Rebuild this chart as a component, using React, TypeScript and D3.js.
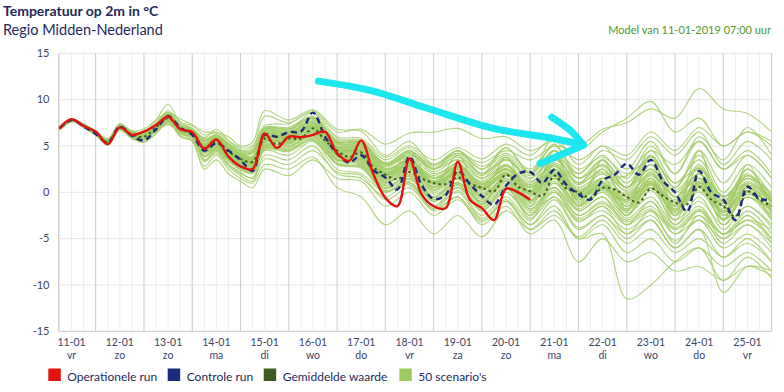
import * as d3 from "d3";

const dayLabels = ["11-01", "12-01", "13-01", "14-01", "15-01", "16-01", "17-01", "18-01", "19-01", "20-01", "21-01", "22-01", "23-01", "24-01", "25-01"];
const weekdayLabels = ["vr", "zo", "zo", "ma", "di", "wo", "do", "vr", "za", "zo", "ma", "di", "wo", "do", "vr"];
const yTicks = [15, 10, 5, 0, -5, -10, -15];

// hours since 11-01 00:00, every 6h
const mainHours = d3.range(6, 361, 6);

const operationalRun = [
  6.9, 7.9, 7.15, 6.55, 5.2, 7.0, 6.2, 6.55, 7.25, 8.15,
  6.8, 6.5, 4.7, 5.7, 3.85, 2.8, 2.5, 6.35, 4.8, 6.0,
  5.95, 6.2, 6.55, 4.2, 3.4, 5.6, 2.0, -0.6, -1.5, 3.65,
  -0.2, -1.5, -1.7, 3.3, -0.8, -1.7, -3.0, 0.4, 0.0, -0.8,
];

const controlRun = [
  6.9, 7.8, 7.1, 6.3, 5.35, 7.1, 6.1, 5.6, 6.8, 8.2,
  7.0, 6.2, 4.5, 5.3, 4.5, 3.5, 2.3, 6.2, 6.0, 6.5,
  6.55, 8.6, 6.0, 4.2, 3.2, 4.0, 2.4, 1.6, 0.3, 3.85,
  0.8, -0.7, -0.3, 2.3, 0.9, -0.4, -1.35, 0.7, 2.0, 2.2,
  1.0, 2.4, 0.8, -0.2, -0.8, 1.3, 1.9, 3.1, 1.9, 3.5,
  1.2, 0.0, -2.1, 2.3, 0.0, -0.8, -3.0, 0.6, -0.7, -0.8,
];

const ensembleMean = [
  6.9, 7.8, 7.2, 6.4, 5.4, 7.0, 6.2, 6.0, 7.0, 8.0,
  6.9, 6.3, 4.8, 5.4, 4.4, 3.6, 3.3, 5.8, 5.2, 5.8,
  5.8, 6.9, 5.6, 4.5, 3.8, 4.3, 2.7, 1.9, 1.4, 2.2,
  1.5, 1.0, 0.9, 1.6, 0.9, 0.5, 0.1, 1.9, 0.6, 0.1,
  -0.4, 1.8, 0.4, 0.0, -0.6, 0.5, 0.3, -0.5, -1.1, 0.4,
  -0.4, -1.1, -1.3, 0.6, -0.8, -1.5, -2.6, 0.1, -0.8, -1.5,
];

const scenarioHours = [
  6, 12, 18, 24, 30, 36, 42, 48, 54, 60, 66, 72, 78, 84, 90, 96, 102, 108,
  120, 132, 144, 156, 168, 180, 192, 204, 216, 228, 240, 252, 264, 276, 288, 300, 312, 324, 336, 348, 360,
];

const scenarios = [
  [6.9, 7.8, 7.2, 6.4, 5.5, 7.1, 6.3, 6.1, 7.1, 8.2, 7.0, 6.4, 5.0, 5.6, 4.6, 3.9, 3.7, 6.2, 6.0, 7.4, 4.8, 4.6, 2.3, 3.6, 1.5, 2.8, 1.2, 2.9, 0.8, 3.2, 1.0, 2.2, 0.5, 3.0, 0.2, 2.5, -0.5, 1.8, -0.3],
  [7.0, 7.8, 7.1, 6.3, 5.3, 6.9, 6.0, 5.8, 6.7, 7.6, 6.5, 6.0, 4.3, 5.0, 3.9, 3.0, 2.6, 5.2, 5.0, 6.0, 3.6, 3.2, 0.8, 1.5, -0.8, 0.5, -1.5, 0.0, -2.2, -0.5, -3.0, -2.0, -4.0, -2.5, -5.2, -3.0, -6.0, -4.5, -6.5],
  [6.9, 7.9, 7.4, 6.6, 5.8, 7.4, 6.6, 6.5, 7.8, 9.5, 7.6, 7.2, 6.2, 6.4, 5.6, 4.8, 5.0, 7.2, 7.4, 8.6, 6.0, 5.8, 3.8, 5.0, 3.5, 4.8, 3.6, 5.2, 4.0, 6.0, 5.0, 6.8, 7.5, 9.0, 8.0, 11.2, 9.0, 8.5, 6.5],
  [7.1, 7.9, 7.0, 6.2, 5.2, 6.8, 5.9, 5.7, 6.6, 7.3, 6.4, 5.7, 3.9, 4.7, 3.5, 2.6, 2.1, 4.9, 4.6, 5.8, 3.0, 2.8, 0.2, 1.0, -1.5, 0.0, -2.8, -0.8, -3.5, -1.5, -5.0, -4.5, -11.5, -10.0, -7.5, -6.0, -9.5, -7.0, -9.3],
  [6.8, 7.7, 7.1, 6.4, 5.3, 7.0, 6.1, 5.9, 6.9, 8.1, 6.8, 6.1, 4.4, 5.0, 4.0, 3.1, 2.9, 5.5, 5.4, 6.5, 3.8, 3.5, 0.5, 1.8, -1.0, 0.8, -2.0, 0.5, -2.8, -0.5, -3.8, -2.5, -4.5, -3.0, -6.0, -4.0, -10.8, -8.0, -8.5],
  [6.7, 7.6, 7.3, 6.6, 5.7, 7.4, 6.5, 6.4, 7.5, 8.8, 7.5, 6.9, 5.9, 6.8, 5.6, 4.6, 4.8, 8.2, 7.5, 8.8, 6.5, 6.8, 5.2, 6.4, 6.5, 6.9, 5.8, 6.0, 4.5, 5.5, 3.5, 5.0, 4.0, 6.5, 4.5, 7.0, 5.0, 6.5, 5.5],
  [6.9, 7.8, 7.2, 6.4, 5.4, 7.1, 6.2, 6.1, 7.1, 8.2, 7.0, 6.4, 4.9, 5.5, 4.4, 3.5, 3.2, 5.8, 6.2, 7.0, 4.2, 4.0, 1.5, 2.8, 0.5, 2.2, -0.5, 1.5, -1.0, 2.5, -0.8, 1.5, -1.5, 2.0, -2.0, 1.2, -2.5, 0.5, -1.8],
  [7.0, 7.9, 7.0, 6.2, 5.1, 6.7, 5.8, 5.4, 6.3, 7.5, 6.0, 5.5, 2.5, 3.5, 2.0, 1.2, 0.5, 2.5, 1.8, 3.5, 1.5, 1.2, -1.5, 0.0, -2.5, -0.8, -3.2, -1.0, -4.0, -2.5, -4.8, -3.0, -5.5, -4.0, -6.5, -5.0, -7.0, -5.5, -7.5],
  [6.9, 7.8, 7.2, 6.4, 5.4, 6.9, 6.1, 5.7, 6.8, 8.1, 6.8, 6.2, 4.5, 5.3, 3.6, 2.4, 2.2, 6.1, 6.5, 8.6, 4.2, 3.3, 1.6, 3.8, 0.2, 2.5, -1.3, 1.9, 0.5, 2.4, 0.2, 1.5, 1.8, 3.5, 1.0, 2.6, -0.4, 0.8, -0.7],
  [6.8, 7.8, 7.3, 6.5, 5.6, 7.2, 6.4, 6.2, 7.3, 8.3, 7.2, 6.5, 5.5, 6.0, 5.1, 4.2, 4.3, 6.8, 6.5, 7.6, 5.2, 5.0, 2.8, 3.8, 2.0, 3.0, 1.5, 3.5, 1.8, 4.5, 2.5, 3.8, 2.0, 4.5, 3.0, 5.5, 2.5, 4.0, 1.5],
  [7.0, 7.8, 7.0, 6.3, 5.1, 6.8, 5.9, 5.9, 6.6, 7.8, 6.3, 6.0, 3.5, 4.5, 3.0, 2.0, 1.6, 4.5, 4.0, 5.5, 2.5, 2.0, 0.0, 1.2, -1.5, 0.5, -2.0, 0.0, -2.5, 1.5, -1.5, 0.0, -2.5, 0.8, -3.5, -0.5, -4.0, -1.5, -3.8],
  [6.9, 7.7, 7.3, 6.5, 5.7, 7.3, 6.6, 6.8, 7.8, 8.6, 7.9, 7.3, 6.5, 6.5, 6.0, 5.0, 5.4, 8.8, 7.8, 8.9, 6.8, 6.6, 4.0, 5.5, 3.0, 4.5, 2.5, 4.8, 2.0, 5.2, 1.5, 3.0, 0.5, 3.5, -0.5, 3.0, -1.0, 2.5, -0.5],
  [6.9, 7.8, 7.3, 6.5, 5.5, 7.0, 6.3, 6.0, 7.0, 7.9, 6.8, 6.2, 4.6, 5.2, 4.2, 3.4, 3.1, 5.6, 5.5, 6.6, 4.0, 3.8, 1.0, 2.5, -0.5, 1.5, -1.2, 2.0, -1.5, 3.0, -1.0, 1.0, -2.5, 1.5, -3.0, 2.0, -3.5, 0.0, -3.0],
  [7.0, 7.9, 7.2, 6.4, 5.5, 7.0, 6.3, 6.0, 7.0, 8.0, 7.0, 6.3, 5.2, 5.8, 4.8, 4.0, 3.8, 6.5, 6.2, 7.2, 5.0, 4.8, 2.5, 3.2, 1.2, 2.8, 1.0, 2.5, 0.2, 3.5, 1.5, 2.8, 0.5, 4.5, 1.0, 3.5, -0.5, 2.0, -0.8],
  [6.8, 7.7, 7.2, 6.6, 5.5, 7.3, 6.3, 6.3, 7.1, 8.5, 6.6, 6.7, 3.4, 4.2, 2.8, 1.8, 1.2, 4.0, 3.5, 5.0, 2.0, 1.5, -0.5, 1.0, -1.8, 0.2, -2.5, -0.5, -3.0, 1.0, -2.0, -0.5, -3.5, -1.0, -4.5, -2.0, -5.0, -2.5, -5.5],
  [6.9, 7.8, 7.2, 6.4, 5.4, 7.0, 6.2, 6.1, 7.1, 8.1, 7.0, 6.4, 4.8, 5.4, 4.4, 3.6, 3.4, 5.9, 5.9, 7.0, 4.6, 4.3, 2.0, 3.0, 1.0, 2.2, 0.3, 1.8, 0.0, 2.0, -0.5, 0.5, -1.0, 1.0, -1.5, 0.5, -2.0, 0.0, -2.2],
  [7.0, 7.8, 7.1, 6.3, 5.3, 7.0, 6.1, 5.9, 6.9, 7.8, 6.7, 6.1, 4.4, 5.0, 3.9, 3.0, 2.6, 5.0, 5.2, 6.2, 3.5, 3.6, 1.2, 4.5, 0.5, 4.0, -0.5, 3.8, -1.0, 4.5, -1.5, 3.5, -2.0, 4.0, -2.5, 4.5, -3.0, 3.0, -2.5],
  [6.9, 7.8, 7.2, 6.4, 5.4, 7.0, 6.3, 6.0, 7.0, 8.0, 6.9, 6.3, 5.0, 5.6, 4.6, 3.8, 3.5, 6.0, 6.0, 7.2, 4.8, 4.5, 2.2, 3.0, 1.5, 2.5, 0.8, 2.0, 0.5, 2.5, 0.0, 1.2, -0.8, 1.5, -1.5, 1.0, -1.2, 1.2, -1.0],
  [6.8, 7.6, 7.3, 6.6, 5.7, 7.3, 6.5, 6.3, 7.4, 8.6, 7.3, 6.9, 5.8, 6.2, 5.3, 4.5, 4.6, 7.0, 7.0, 8.2, 5.8, 5.5, 3.0, 4.0, 2.5, 4.0, 2.0, 3.5, 1.5, 3.8, 1.0, 3.0, 0.5, 2.5, 0.0, 2.0, -0.5, 1.5, 0.0],
  [7.1, 7.9, 7.1, 6.2, 5.2, 6.9, 6.0, 5.8, 6.7, 7.4, 6.5, 5.9, 4.2, 4.9, 3.8, 3.0, 2.7, 5.0, 4.8, 6.2, 3.5, 3.0, 0.5, 1.8, -0.5, 1.0, -1.0, 1.2, -1.8, 0.5, -2.5, -1.0, -3.0, -1.5, -4.0, -2.0, -4.5, -3.0, -4.0],
  [6.9, 7.8, 7.1, 6.4, 5.4, 6.9, 6.2, 6.0, 6.9, 8.0, 6.8, 6.3, 4.7, 5.4, 4.3, 3.5, 3.2, 5.7, 5.6, 6.8, 4.3, 4.2, 1.8, 2.8, 0.8, 2.0, 0.2, 2.2, -0.2, 1.8, -0.5, 1.0, -1.5, 0.5, -2.0, 1.5, -2.5, -0.5, -2.0],
  [7.0, 7.9, 7.3, 6.5, 5.5, 7.1, 6.3, 6.1, 7.1, 8.1, 7.0, 6.5, 5.1, 5.7, 4.7, 3.8, 3.6, 6.2, 6.0, 7.3, 4.9, 5.0, 2.8, 4.0, 2.5, 3.5, 1.5, 3.0, 1.0, 4.0, 2.0, 4.5, 3.5, 6.0, 4.0, 6.5, 3.0, 5.5, 3.5],
  [6.9, 7.8, 7.1, 6.2, 5.2, 6.8, 5.9, 5.5, 6.4, 7.8, 6.1, 5.6, 2.8, 4.0, 2.5, 1.5, 1.0, 3.0, 2.5, 3.8, 0.5, -0.5, -3.5, -2.0, -4.5, -2.5, -4.8, -2.0, -4.0, -2.0, -5.0, -3.5, -6.5, -5.0, -7.5, -6.0, -8.0, -6.5, -8.5],
  [6.9, 7.7, 7.2, 6.4, 5.5, 7.1, 6.4, 6.2, 7.2, 8.3, 7.1, 6.6, 5.3, 5.9, 4.9, 4.1, 3.9, 6.5, 6.4, 7.6, 5.3, 5.1, 2.6, 3.4, 1.8, 3.0, 1.0, 2.5, 0.8, 2.8, 0.5, 2.0, 0.2, 2.5, -0.5, 2.0, -1.0, 1.5, -1.0],
  [7.0, 7.9, 7.1, 6.3, 5.3, 6.9, 6.1, 5.9, 6.9, 7.7, 6.7, 6.0, 4.5, 5.1, 4.0, 3.2, 2.9, 5.3, 5.3, 6.4, 3.9, 3.6, 1.2, 2.2, 0.0, 1.4, -0.8, 1.0, -1.2, 1.0, -1.8, 0.0, -2.5, 0.2, -3.0, -1.0, -3.5, -1.5, -3.5],
  [6.8, 7.7, 7.3, 6.6, 5.6, 7.2, 6.4, 6.2, 7.3, 8.5, 7.2, 6.7, 5.6, 6.0, 5.1, 4.2, 4.3, 6.8, 6.8, 8.0, 5.5, 5.4, 3.2, 4.5, 2.8, 4.2, 2.5, 4.0, 2.0, 4.5, 1.5, 3.5, 1.0, 4.0, 0.5, 4.5, 1.0, 4.0, 1.5],
  [6.9, 7.8, 7.2, 6.4, 5.4, 7.0, 6.2, 6.0, 7.0, 8.0, 6.9, 6.3, 4.7, 5.3, 4.2, 3.4, 3.0, 5.6, 5.7, 6.9, 4.4, 4.1, 1.6, 2.6, 0.6, 1.8, -0.2, 1.5, -0.8, 1.5, -1.2, 0.2, -2.0, 0.5, -2.2, 0.0, -2.8, -0.5, -2.5],
  [7.0, 7.8, 7.1, 6.3, 5.2, 6.9, 6.0, 5.8, 6.7, 7.9, 6.5, 6.0, 3.8, 4.6, 3.3, 2.5, 2.0, 4.6, 4.4, 5.6, 3.0, 2.6, 0.0, 1.5, -1.0, 0.8, -1.8, 0.5, -2.5, 0.0, -3.2, -1.5, -4.5, -2.0, -5.5, -2.5, -5.5, -3.5, -6.0],
  [6.9, 7.8, 7.3, 6.5, 5.5, 7.1, 6.3, 6.1, 7.1, 8.2, 7.0, 6.5, 5.1, 5.8, 4.7, 3.9, 3.7, 6.3, 6.3, 7.5, 5.0, 4.9, 2.5, 3.3, 1.6, 2.8, 0.9, 2.6, 0.5, 2.5, 0.3, 1.5, -0.2, 1.8, -0.5, 1.5, -0.8, 1.0, -0.5],
  [6.9, 7.7, 7.2, 6.4, 5.4, 7.0, 6.2, 6.0, 7.1, 8.1, 6.9, 6.4, 4.9, 5.5, 4.5, 3.7, 3.4, 5.9, 6.1, 7.1, 4.7, 4.4, 2.0, 3.2, 1.2, 2.5, 0.5, 2.0, 0.0, 2.5, -0.8, 0.8, -1.8, 1.0, -2.5, 0.8, -3.0, 0.2, -2.8],
  [7.0, 7.9, 7.1, 6.2, 5.1, 6.9, 5.9, 5.8, 6.6, 7.6, 6.3, 6.0, 3.3, 4.4, 3.0, 2.2, 1.5, 3.6, 3.0, 4.5, 2.2, 1.8, -0.8, 0.5, -2.0, -0.5, -3.0, -1.0, -3.5, -0.8, -4.0, -2.5, -5.0, -3.0, -6.0, -4.0, -7.0, -5.0, -7.5],
  [6.8, 7.7, 7.3, 6.5, 5.6, 7.2, 6.4, 6.3, 7.3, 8.4, 7.2, 6.7, 5.6, 6.1, 5.2, 4.3, 4.4, 6.9, 6.9, 8.1, 5.6, 5.6, 3.5, 4.8, 3.0, 4.5, 2.8, 4.2, 2.5, 5.0, 2.0, 4.0, 1.5, 5.0, 2.0, 5.5, 2.5, 4.5, 2.0],
  [6.9, 7.8, 7.2, 6.4, 5.4, 7.0, 6.2, 5.9, 6.9, 8.0, 6.8, 6.3, 4.6, 5.3, 4.1, 3.3, 3.0, 5.5, 5.4, 6.6, 4.1, 3.9, 1.4, 2.4, 0.3, 1.6, -0.4, 1.3, -1.0, 1.2, -1.5, 0.5, -2.2, -0.5, -3.5, -1.5, -4.5, -2.0, -4.5],
  [7.0, 7.9, 7.2, 6.4, 5.5, 7.0, 6.3, 6.0, 7.1, 8.1, 7.0, 6.4, 5.1, 5.8, 4.7, 3.8, 3.6, 6.4, 6.5, 7.6, 5.2, 5.2, 3.0, 4.0, 3.0, 4.2, 3.2, 4.5, 3.5, 5.0, 4.5, 6.5, 8.0, 9.8, 6.5, 8.0, 5.0, 6.5, 5.0],
  [6.9, 7.8, 7.1, 6.3, 5.3, 6.9, 6.1, 5.9, 6.8, 7.8, 6.6, 6.1, 4.4, 5.0, 3.9, 3.1, 2.8, 5.1, 5.0, 6.1, 3.6, 3.4, 1.0, 2.0, -0.2, 1.0, -1.0, 0.8, -1.5, 0.5, -2.0, -0.5, -2.8, -1.0, -3.8, -1.8, -4.5, -2.5, -5.0],
  [6.9, 7.8, 7.3, 6.5, 5.5, 7.1, 6.3, 6.1, 7.1, 8.2, 7.0, 6.5, 5.0, 5.7, 4.6, 3.9, 3.6, 6.1, 6.0, 7.2, 4.7, 4.5, 2.1, 3.5, 1.2, 3.2, 0.6, 3.0, 0.0, 3.8, -0.2, 2.5, -1.0, 3.0, -1.8, 2.8, -2.2, 2.5, -1.5],
  [7.0, 7.9, 7.2, 6.4, 5.4, 7.0, 6.2, 6.0, 6.9, 7.9, 6.8, 6.2, 4.6, 5.2, 4.2, 3.3, 3.0, 5.5, 5.5, 6.7, 4.2, 4.0, 1.5, 2.5, 0.5, 1.8, 0.0, 1.5, -0.5, 2.0, -0.8, 1.0, -1.5, 1.2, -2.0, 1.0, -2.2, 0.5, -2.0],
  [6.8, 7.7, 7.2, 6.5, 5.6, 7.2, 6.4, 6.2, 7.2, 8.3, 7.1, 6.6, 5.3, 5.9, 4.9, 4.0, 3.9, 6.6, 6.5, 7.8, 5.4, 5.3, 3.0, 4.2, 2.2, 3.5, 1.8, 3.6, 1.2, 3.0, 0.8, 2.5, 0.0, 2.0, -0.5, 1.5, -1.5, 1.0, -1.2],
  [6.9, 7.8, 7.2, 6.4, 5.4, 7.0, 6.2, 6.0, 7.0, 8.0, 6.9, 6.3, 4.8, 5.4, 4.4, 3.6, 3.3, 5.8, 5.8, 6.9, 4.5, 4.3, 1.9, 2.9, 1.0, 2.1, 0.4, 2.0, -0.1, 1.7, -0.3, 0.6, -0.8, 0.9, -1.3, 0.7, -1.8, 0.2, -1.5],
  [7.0, 7.9, 7.1, 6.3, 5.2, 6.9, 6.0, 5.8, 6.7, 7.7, 6.5, 6.0, 3.9, 4.7, 3.5, 2.7, 2.2, 4.8, 4.5, 5.7, 3.1, 2.7, 0.1, 0.8, -1.8, -0.5, -3.5, -1.5, -4.5, -3.0, -7.5, -5.0, -7.5, -6.5, -8.5, -8.0, -9.5, -8.0, -9.0],
  [6.9, 7.8, 7.2, 6.5, 5.5, 7.1, 6.3, 6.0, 7.0, 8.1, 6.9, 6.4, 5.0, 5.6, 4.5, 3.7, 3.4, 6.0, 5.9, 7.1, 4.6, 4.4, 2.1, 3.1, 1.1, 2.3, 0.6, 2.1, 0.2, 2.0, 0.1, 1.0, -0.3, 1.2, -0.8, 1.0, -1.2, 0.5, -1.0],
  [7.0, 7.9, 7.1, 6.3, 5.3, 6.9, 6.1, 5.9, 6.9, 7.8, 6.7, 6.1, 4.5, 5.1, 4.0, 3.2, 2.9, 5.4, 5.4, 6.4, 4.0, 3.7, 1.3, 2.0, 0.2, 1.5, -0.6, 1.2, -0.9, 1.5, -1.4, 0.5, -1.8, 1.0, -2.5, 0.5, -3.0, -0.5, -3.0],
  [6.8, 7.7, 7.4, 6.6, 5.7, 7.3, 6.5, 6.3, 7.4, 8.5, 7.3, 6.8, 5.7, 6.2, 5.3, 4.4, 4.5, 7.0, 6.8, 8.0, 5.5, 5.3, 3.0, 4.5, 2.5, 4.5, 2.0, 4.8, 2.2, 6.0, 3.0, 5.0, 2.5, 5.5, 2.0, 6.0, 3.5, 7.0, 4.0],
  [6.9, 7.8, 7.2, 6.4, 5.4, 7.0, 6.2, 6.0, 7.0, 8.0, 6.9, 6.3, 4.9, 5.5, 4.4, 3.6, 3.3, 5.9, 5.8, 6.9, 4.5, 4.2, 1.8, 2.7, 0.9, 1.9, 0.3, 1.8, -0.3, 1.5, -0.6, 0.3, -1.2, 0.5, -1.8, 0.2, -2.2, -0.2, -2.0],
  [7.0, 7.8, 7.1, 6.3, 5.3, 6.9, 6.1, 5.9, 6.8, 7.9, 6.6, 6.2, 4.3, 4.9, 3.8, 2.9, 2.6, 4.9, 4.8, 6.0, 3.4, 3.1, 0.7, 1.7, -0.6, 1.1, -1.3, 0.6, -1.8, 0.2, -2.5, -1.2, -3.2, -1.8, -4.5, -3.0, -5.0, -3.5, -5.5],
  [6.9, 7.7, 7.3, 6.5, 5.5, 7.1, 6.3, 6.2, 7.2, 8.3, 7.1, 6.6, 5.1, 5.8, 4.7, 3.9, 3.7, 6.3, 6.2, 7.4, 4.9, 4.7, 2.4, 3.4, 1.5, 2.7, 0.8, 2.8, 0.6, 3.0, 0.0, 2.0, -0.5, 2.2, -1.0, 2.0, -1.5, 1.8, -1.0],
  [6.9, 7.8, 7.2, 6.4, 5.4, 7.0, 6.2, 6.0, 7.0, 8.0, 6.9, 6.3, 4.8, 5.4, 4.4, 3.5, 3.2, 5.8, 5.9, 7.0, 4.5, 4.3, 1.9, 3.0, 1.0, 2.2, 0.4, 2.4, 0.1, 2.2, -0.2, 0.8, -1.0, 1.2, -1.5, 1.2, -2.0, 0.8, -1.8],
  [7.0, 7.9, 7.1, 6.3, 5.2, 6.9, 6.0, 5.9, 6.7, 7.7, 6.5, 6.0, 4.0, 4.8, 3.6, 2.8, 2.4, 4.7, 4.6, 5.8, 3.2, 2.9, 0.4, 1.4, -0.8, 0.8, -1.6, 0.4, -2.0, 0.0, -2.8, -1.5, -3.5, -2.0, -4.0, -2.5, -4.5, -3.0, -5.0],
  [6.8, 7.7, 7.3, 6.5, 5.6, 7.2, 6.4, 6.3, 7.3, 8.4, 7.2, 6.7, 5.5, 6.0, 5.0, 4.1, 4.2, 6.7, 6.7, 7.9, 5.4, 5.4, 3.1, 4.3, 2.6, 3.8, 2.0, 3.8, 1.5, 4.0, 1.0, 3.5, 0.5, 3.8, 0.5, 4.0, 0.0, 3.0, 0.5],
  [6.9, 7.8, 7.2, 6.4, 5.4, 7.0, 6.2, 6.0, 7.0, 8.0, 6.9, 6.3, 4.8, 5.4, 4.4, 3.6, 3.3, 5.8, 5.8, 6.9, 4.5, 4.3, 1.9, 2.8, 1.0, 2.0, 0.5, 1.9, 0.1, 1.8, 0.0, 0.5, -0.5, 0.8, -1.1, 0.8, -1.5, 0.1, -1.5],
];

// hand-drawn cyan arrow on the picture, in [hour, °C]
const arrowShaft = [[134.7, 12.0], [160.4, 11.0], [188.5, 9.1], [221.7, 6.9], [251.5, 5.8], [266.4, 5.1]];
const arrowUpper = [[250.7, 8.1], [259.8, 6.7], [266.4, 5.1]];
const arrowLower = [[266.4, 5.1], [254.8, 4.0], [244.9, 3.1]];

const legendItems = [
  { label: "Operationele run", color: "#e3140f", x: 48.3 },
  { label: "Controle run", color: "#1b2b7e", x: 167.7 },
  { label: "Gemiddelde waarde", color: "#3f5b22", x: 263.7 },
  { label: "50 scenario's", color: "#9fcb5e", x: 399.3 },
];

const FONT = "Lato, 'Open Sans', sans-serif";

export default function App() {
  const width = 784;
  const height = 392;
  const x = d3.scaleLinear().domain([0, 360]).range([47.4, 771.6]);
  const y = d3.scaleLinear().domain([-15, 15]).range([331.3, 53.3]);
  const left = x(5.5);
  const right = x(360);

  const line = (hours: number[]) =>
    d3.line<number>()
      .x((_, i) => x(hours[i]))
      .y((d) => y(d))
      .curve(d3.curveCatmullRom.alpha(0.5));
  const arrowLine = d3.line<number[]>()
    .x((d) => x(d[0]))
    .y((d) => y(d[1]))
    .curve(d3.curveCatmullRom.alpha(0.5));

  const minor = d3.range(6, 360, 6).filter((h) => h % 24 !== 0);
  const major = d3.range(24, 360, 24);

  return (
    <svg width={width} height={height} style={{ position: "absolute", left: 0, top: 0, background: "#fff" }} fontFamily={FONT}>
      <defs>
        <clipPath id="plot">
          <rect x={left} y={y(15)} width={right - left} height={y(-15) - y(15)} />
        </clipPath>
      </defs>

      <text x={3} y={16} fontSize={14} fontWeight={700} fill="#1e2a5c">Temperatuur op 2m in °C</text>
      <text x={3} y={35} fontSize={14.5} fill="#1e2a5c">Regio Midden-Nederland</text>
      <text x={771} y={34} fontSize={11} fill="#4f9a2b" textAnchor="end">Model van 11-01-2019 07:00 uur</text>

      {/* grid */}
      {yTicks.map((t) => (
        <line key={"h" + t} x1={left} x2={right} y1={y(t)} y2={y(t)} stroke={t === -15 ? "#c4c4c4" : "#e6e6e6"} strokeWidth={1} />
      ))}
      {minor.map((h) => (
        <line key={"m" + h} x1={x(h)} x2={x(h)} y1={y(15)} y2={y(-15)} stroke="#ededed" strokeWidth={1} />
      ))}
      {major.map((h) => (
        <line key={"M" + h} x1={x(h)} x2={x(h)} y1={y(15)} y2={y(-15)} stroke="#cbcbcb" strokeWidth={1} />
      ))}
      <line x1={left} x2={left} y1={y(15)} y2={y(-15)} stroke="#cbcbcb" />
      <line x1={right} x2={right} y1={y(15)} y2={y(-15)} stroke="#cbcbcb" />

      {/* y axis labels */}
      {yTicks.map((t) => (
        <text key={"yt" + t} x={49.5} y={y(t)} dy="0.35em" fontSize={11} fill="#3a4566" textAnchor="end">{t}</text>
      ))}

      {/* x axis labels */}
      {dayLabels.map((d, i) => (
        <g key={d} transform={`translate(${x(24 * i + 12)},0)`}>
          <text y={345.5} fontSize={10.5} fill="#3a4566" textAnchor="middle">{d}</text>
          <text y={358.5} fontSize={10.5} fill="#3a4566" textAnchor="middle">{weekdayLabels[i]}</text>
        </g>
      ))}

      <g clipPath="url(#plot)" fill="none">
        {scenarios.map((s, i) => (
          <path key={"s" + i} d={line(scenarioHours)(s) ?? ""} stroke="#a2cc67" strokeWidth={1.1} strokeOpacity={0.85} />
        ))}
        <path d={line(mainHours)(ensembleMean) ?? ""} stroke="#3f5b22" strokeWidth={2} strokeDasharray="2.5,3" />
        <path d={line(mainHours)(controlRun) ?? ""} stroke="#1b2b7e" strokeWidth={2.4} strokeDasharray="6,4" />
        <path d={line(mainHours)(operationalRun) ?? ""} stroke="#e3140f" strokeWidth={2.4} />
      </g>

      {/* cyan annotation arrow */}
      <g fill="none" stroke="#1de6ee" strokeWidth={7} strokeLinecap="round" strokeLinejoin="round">
        <path d={arrowLine(arrowShaft) ?? ""} />
        <path d={arrowLine(arrowUpper) ?? ""} />
        <path d={arrowLine(arrowLower) ?? ""} />
      </g>

      {/* legend */}
      {legendItems.map((it) => (
        <g key={it.label}>
          <rect x={it.x} y={368.5} width={12.5} height={12.5} fill={it.color} />
          <text x={it.x + 19} y={380.5} fontSize={12} fill="#1e2a5c">{it.label}</text>
        </g>
      ))}
    </svg>
  );
}
